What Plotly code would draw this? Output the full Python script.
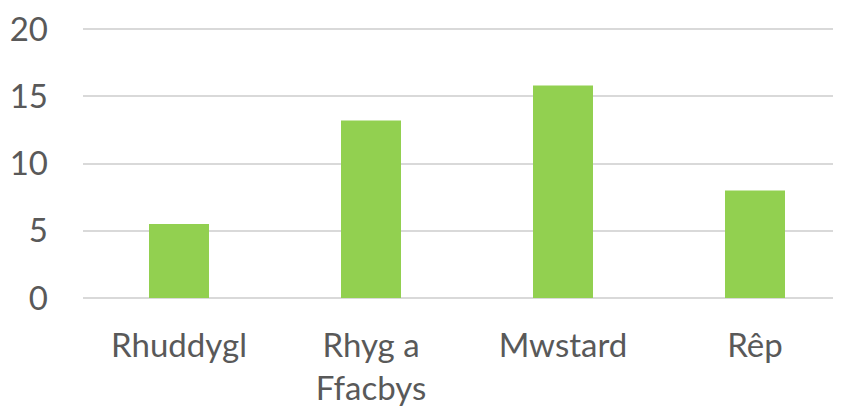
import plotly.graph_objects as go

categories = ["Rhuddygl", "Rhyg a<br>Ffacbys", "Mwstard", "Rêp"]
values = [5.5, 13.2, 15.8, 8.0]
y_ticks = [0, 5, 10, 15, 20]

fig = go.Figure()
fig.add_trace(go.Bar(
    x=list(range(len(categories))),
    y=values,
    marker=dict(color="#92d050", line=dict(width=0)),
    width=0.3125,
))

font = dict(family="Lato, Open Sans, sans-serif", size=33, color="#595959")

fig.update_layout(
    width=843, height=406,
    margin=dict(l=75, r=0, t=11, b=112),
    paper_bgcolor="white", plot_bgcolor="white",
    showlegend=False,
    font=font,
    xaxis=dict(
        range=[-0.5, 3.5],
        tickmode="array",
        tickvals=list(range(len(categories))),
        ticktext=categories,
        showgrid=False, zeroline=False, showline=False,
        ticks="", ticklabelstandoff=21,
        tickfont=font,
    ),
    yaxis=dict(
        range=[-0.3, 20.6],
        tickmode="array",
        tickvals=y_ticks,
        showgrid=True, gridcolor="#d9d9d9", gridwidth=2,
        zeroline=False, showline=False,
        ticks="", ticklabelstandoff=34,
        ticklabeloverflow="allow",
        tickfont=font,
    ),
)

fig.write_html("out.html")
